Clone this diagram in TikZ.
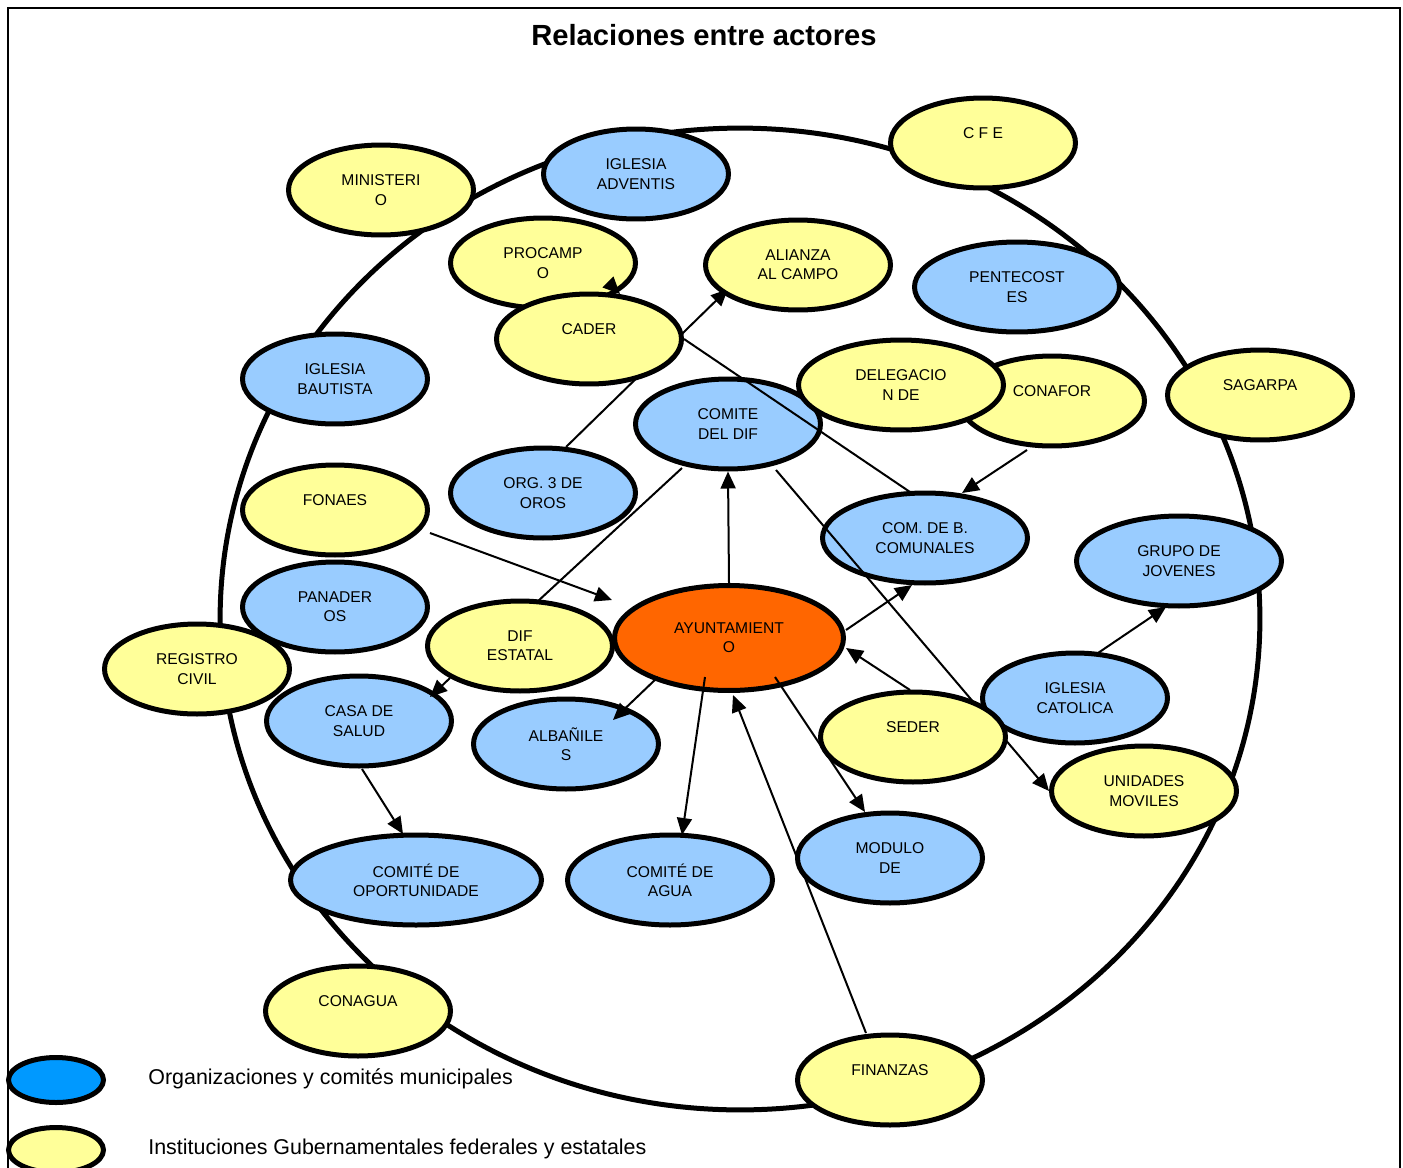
\documentclass[tikz,border=0pt]{standalone}
\usepackage{fontspec}
\setmainfont{Liberation Sans}
\usetikzlibrary{shapes.geometric,arrows.meta,calc}
\pgfdeclarelayer{ring}
\pgfdeclarelayer{under}
\pgfdeclarelayer{links}
\pgfsetlayers{ring,under,links,main}
\definecolor{amarillo}{HTML}{FFFF99}
\definecolor{azul}{HTML}{99CCFF}
\definecolor{azulfuerte}{HTML}{0099FF}
\definecolor{naranja}{HTML}{FF6600}

\begin{document}
\begin{tikzpicture}[x=0.02cm,y=-0.02cm]
        \tikzstyle{every node}=[font=\fontsize{8.9}{11}\selectfont,align=center,inner sep=0pt]
        \tikzstyle{actor}=[ellipse,draw,line width=0.1cm,minimum width=3.7cm,minimum height=1.8cm]
        \tikzstyle{fed}=[actor,fill=amarillo]
        \tikzstyle{mun}=[actor,fill=azul]
        \tikzstyle{ancho}=[minimum width=4.1cm]
        \tikzstyle{liga}=[line width=0.04cm]
        \tikzstyle{flecha}=[liga,-{Triangle[length=0.34cm,width=0.3cm]}]
        \useasboundingbox (0,0) rectangle (1403,1167);
        \draw[line width=0.04cm] (8,1200) -- (8,8) -- (1400,8) -- (1400,1200);
        \node[font=\fontsize{16.6}{20}\selectfont\bfseries] (titulo) at (704,35) {Relaciones entre actores};
        \begin{pgfonlayer}{ring}
            \draw[line width=0.1cm] (740,619) ellipse [x radius=10.4cm, y radius=9.82cm];
        \end{pgfonlayer}
        \begin{pgfonlayer}{under}
            \node[mun] (comite) at (728,424) {COMITE\\DEL DIF};
            \node[mun,ancho] (comunales) at (925,538) {COM. DE B.\\COMUNALES};
        \end{pgfonlayer}
        \node[fed] (ministerio) at (381,190) {MINISTERI\\O};
        \node[mun] (adventis) at (636,174) {IGLESIA\\ADVENTIS};
        \node[fed] (cfe) at (983,143) {C F E\\\mbox{}};
        \node[fed] (procampo) at (543,263) {PROCAMP\\O};
        \node[fed] (alianza) at (798,265) {ALIANZA\\AL CAMPO};
        \node[mun,ancho] (pentecostes) at (1017,287) {PENTECOST\\ES};
        \node[fed] (cader) at (589,339) {CADER\\\mbox{}};
        \node[mun] (bautista) at (335,379) {IGLESIA\\BAUTISTA};
        \node[fed] (conafor) at (1052,401) {CONAFOR\\\mbox{}};
        \node[fed,ancho] (delegacion) at (901,385) {DELEGACIO\\N DE};
        \node[fed] (sagarpa) at (1260,395) {SAGARPA\\\mbox{}};
        \node[mun] (org) at (543,493) {ORG. 3 DE\\OROS};
        \node[fed] (fonaes) at (335,510) {FONAES\\\mbox{}};
        \node[mun,ancho] (jovenes) at (1179,561) {GRUPO DE\\JOVENES};
        \node[mun] (panaderos) at (335,607) {PANADER\\OS};
        \node[fed] (registro) at (197,669) {REGISTRO\\CIVIL};
        \node[fed] (difestatal) at (520,646) {DIF\\ESTATAL};
        \node[actor,fill=naranja,minimum width=4.58cm,minimum height=2.1cm] (ayto) at (729,638) {AYUNTAMIENT\\O};
        \node[mun] (salud) at (359,721) {CASA DE\\SALUD};
        \node[mun] (albaniles) at (566,744) {ALBAÑILE\\S};
        \node[mun] (catolica) at (1075,698) {IGLESIA\\CATOLICA};
        \node[fed] (seder) at (913,737) {SEDER\\\mbox{}};
        \node[fed] (unidades) at (1144,791) {UNIDADES\\MOVILES};
        \node[mun] (modulo) at (890,858) {MODULO\\DE};
        \node[mun,minimum width=5.02cm] (oportunidades) at (416,880) {COMITÉ DE\\OPORTUNIDADE};
        \node[mun,ancho] (agua) at (670,880) {COMITÉ DE\\AGUA};
        \node[fed] (conagua) at (358,1011) {CONAGUA\\\mbox{}};
        \node[fed] (finanzas) at (890,1080) {FINANZAS\\\mbox{}};
        \begin{pgfonlayer}{links}
            \draw[flecha] ($(org)+(23,-46)$) -- ($(alianza)+(-70,24)$);
            \draw[liga] (cader.east) -- ($(comunales)+(-15,-46)$);
            \draw[liga] ($(comite)+(-46,44)$) -- ($(difestatal)+(17,-44)$);
            \draw[flecha] ($(comite)+(48,46)$) -- (unidades.west);
            \draw[flecha] (ayto.north) -- (comite.south);
            \draw[flecha] ($(fonaes)+(95,23)$) -- ($(ayto)+(-117,-38)$);
            \draw[flecha] ($(conafor)+(-25,49)$) -- ($(comunales)+(37,-45)$);
            \draw[flecha] ($(ayto)+(117,-8)$) -- ($(comunales)+(-13,47)$);
            \draw[flecha] ($(catolica)+(23,-45)$) -- ($(jovenes)+(-13,46)$);
            \draw[flecha] ($(seder)+(-3,-47)$) -- ($(ayto)+(117,10)$);
            \draw[flecha] ($(finanzas)+(-24,-47)$) -- ($(ayto)+(4,57)$);
            \draw[flecha] ($(salud)+(3,48)$) -- ($(oportunidades)+(-13,-46)$);
        \end{pgfonlayer}
        \draw[flecha] ($(difestatal)+(-70,32)$) -- ($(salud)+(71,-24)$);
        \draw[flecha] ($(ayto)+(-71,39)$) -- ($(albaniles)+(47,-24)$);
        \draw[flecha] ($(ayto)+(-24,39)$) -- ($(agua)+(12,-45)$);
        \draw[flecha] ($(ayto)+(46,39)$) -- ($(modulo)+(-25,-46)$);
        \draw[flecha] ($(procampo)+(66,20)$) -- ($(cader)+(31,-45)$);
        \node[ellipse,draw,line width=0.1cm,fill=azulfuerte,minimum width=1.9cm,minimum height=0.9cm] (leyazul) at (56,1080) {};
        \node[ellipse,draw,line width=0.1cm,fill=amarillo,minimum width=1.9cm,minimum height=0.9cm] (leyamarillo) at (56,1150) {};
        \node[anchor=west,font=\fontsize{12.2}{14}\selectfont] (txtazul) at (148,1079) {Organizaciones y comités municipales};
        \node[anchor=west,font=\fontsize{12.2}{14}\selectfont] (txtamarillo) at (148,1149) {Instituciones Gubernamentales federales y estatales};
    \end{tikzpicture}
\end{document}
